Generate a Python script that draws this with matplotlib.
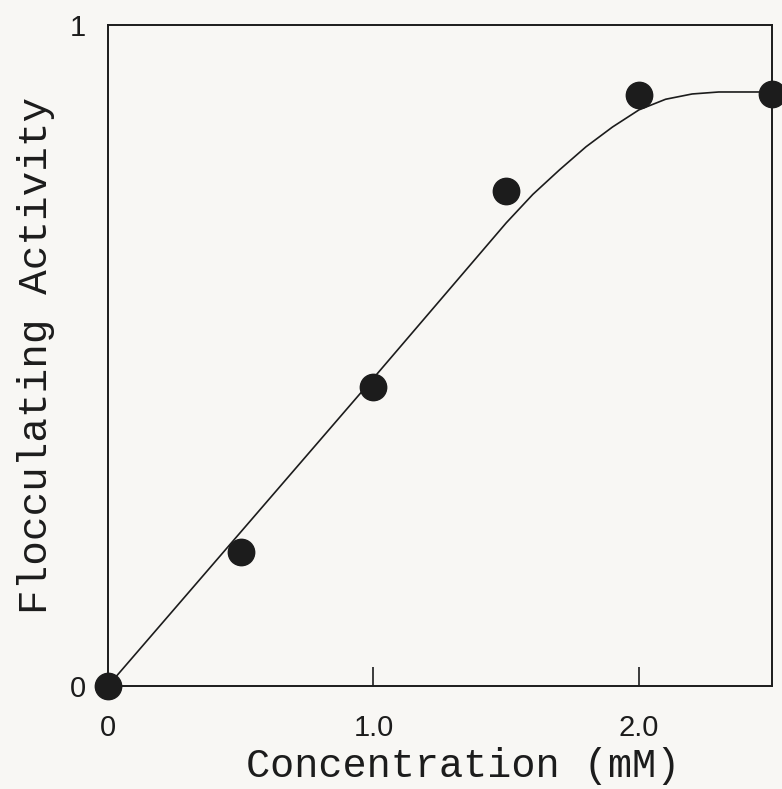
import matplotlib
matplotlib.use("Agg")
import matplotlib.pyplot as plt

# measured points (filled circles)
conc = [0.0, 0.5, 1.0, 1.5, 2.0, 2.5]
activity = [0.0, 0.203, 0.452, 0.749, 0.894, 0.896]

# fitted curve
curve_x = [0.0, 0.5, 1.0, 1.4, 1.5, 1.6, 1.7, 1.8, 1.9, 2.0, 2.1, 2.2, 2.3, 2.5]
curve_y = [0.0, 0.233, 0.466, 0.654, 0.701, 0.744, 0.781, 0.816, 0.846, 0.872, 0.888, 0.896, 0.899, 0.899]

xticks = [0.0, 1.0, 2.0]
xticklabels = ["0", "1.0", "2.0"]
yticks = [0.0, 1.0]
yticklabels = ["0", "1"]

bg = "#f8f7f4"
ink = "#1c1c1c"

fig = plt.figure(figsize=(7.82, 7.89), dpi=100, facecolor=bg)
ax = fig.add_axes([0.138, 0.1305, 0.849, 0.8375], facecolor=bg)

ax.plot(curve_x, curve_y, color=ink, lw=1.2)
ax.plot(conc, activity, "o", color=ink, ms=19, clip_on=False, zorder=5)

ax.set_xlim(0, 2.5)
ax.set_ylim(0, 1)
for s in ax.spines.values():
    s.set_color(ink)
    s.set_linewidth(1.4)

ax.set_xticks(xticks)
ax.set_xticklabels(xticklabels, fontsize=21, family="Liberation Sans", color=ink)
ax.tick_params(axis="x", direction="in", length=14, width=1.2, color=ink, pad=20)
ax.set_yticks(yticks)
ax.set_yticklabels(yticklabels, fontsize=21, family="Liberation Sans", color=ink)
ax.tick_params(axis="y", length=0, pad=16)
ax.xaxis.get_major_ticks()[0].tick1line.set_visible(False)

ax.set_xlabel("Concentration (mM)", fontsize=29, family="Liberation Mono", color=ink)
ax.xaxis.set_label_coords(0.535, -0.092)
ax.set_ylabel("Flocculating Activity", fontsize=29.5, family="Liberation Mono", color=ink)
ax.yaxis.set_label_coords(-0.08, 0.50)

fig.savefig("out.png", dpi=100, facecolor=bg)
plt.close(fig)
